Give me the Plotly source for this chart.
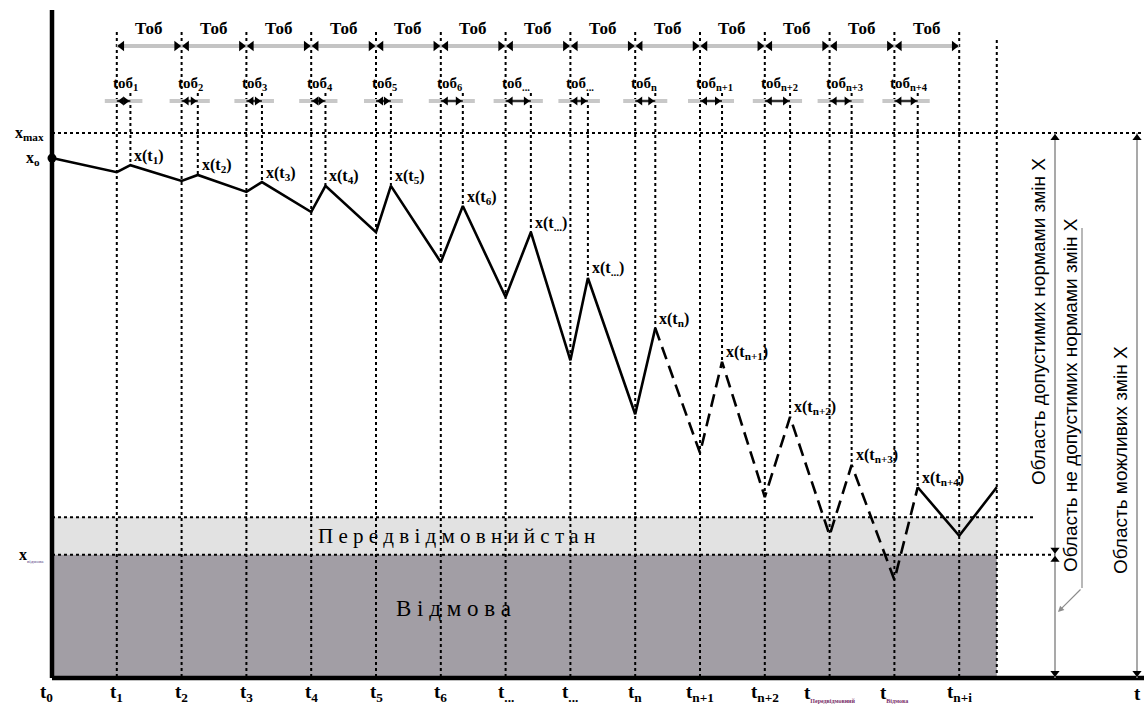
import plotly.graph_objects as go

# ---------------- data ----------------
t_index = list(range(15))                      # t0 .. t_{n+i}
t_tick_labels = ["t<sub>0</sub>", "t<sub>1</sub>", "t<sub>2</sub>", "t<sub>3</sub>", "t<sub>4</sub>",
                 "t<sub>5</sub>", "t<sub>6</sub>", "t<sub>...</sub>", "t<sub>...</sub>", "t<sub>n</sub>",
                 "t<sub>n+1</sub>", "t<sub>n+2</sub>",
                 "t<sub><span style='font-size:6px;color:#7a2f6a'>Передвідмовний</span></sub>",
                 "t<sub><span style='font-size:6px;color:#7a2f6a'>Відмова</span></sub>",
                 "t<sub>n+i</sub>"]
tob_dur = [0.21, 0.25, 0.24, 0.22, 0.23, 0.34, 0.39, 0.27, 0.31, 0.34, 0.39, 0.34, 0.36]
trough_vals = [92.8, 91.2, 89.2, 85.5, 81.8, 76.3, 69.9, 58.3, 48.4, 41.3, 33.2, 26.2, 18.0, 26.1]
peak_vals = [94.1, 92.3, 91.0, 90.3, 90.3, 86.6, 81.8, 73.4, 64.2, 58.0, 47.9, 39.1, 35.0]
sub_labels = ["1", "2", "3", "4", "5", "6", "...", "...", "n", "n+1", "n+2", "n+3", "n+4"]
x0_val = 95.4
x_max = 100.0
x_prefail = 29.5
x_fail = 22.6
t_end = 14.58
end_val = 35.0
t_far = 16.7

# ---------------- scale helpers ----------------
PX_X = 64.8   # px per time unit
PX_Y = 5.45   # px per value unit
def dx(px): return px / PX_X
def dy(px): return px / PX_Y

XR = [-52 / PX_X, (1144 - 52) / PX_X]
YR = [-34 / PX_Y, 678 / PX_Y]

fig = go.Figure()
SERIF = "Liberation Serif, Times New Roman, DejaVu Serif, serif"
SANS = "Liberation Sans, Arial, sans-serif"

def line(xs, ys, color="black", width=2, dash="solid"):
    fig.add_trace(go.Scatter(x=xs, y=ys, mode="lines", hoverinfo="skip", showlegend=False,
                             line=dict(color=color, width=width, dash=dash)))

def marks(xs, ys, symbol, size=8, color="black"):
    fig.add_trace(go.Scatter(x=xs, y=ys, mode="markers", hoverinfo="skip", showlegend=False,
                             marker=dict(symbol=symbol, size=size, color=color, line=dict(width=0))))

shapes = []
# regions
shapes.append(dict(type="rect", xref="x", yref="y", x0=0, x1=t_end, y0=x_fail, y1=x_prefail,
                   fillcolor="#e2e2e2", line=dict(width=0), layer="below"))
shapes.append(dict(type="rect", xref="x", yref="y", x0=0, x1=t_end, y0=0, y1=x_fail,
                   fillcolor="#a29ea5", line=dict(width=0), layer="below"))

# horizontal dotted lines
top_y = dy(678 - 32)
line([0, XR[1]], [x_max, x_max], width=2, dash="dot")
line([0, dx(1033 - 52)], [x_prefail, x_prefail], width=2, dash="dot")
line([0, dx(1055 - 52)], [x_fail, x_fail], width=2, dash="dot")

# vertical dotted lines at t_k
for k in t_index[1:]:
    line([k, k], [top_y, 0], width=2, dash="dot")
line([t_end, t_end], [dy(678 - 40), 0], width=2, dash="dot")
# dotted lines at end of service
for k in range(1, 14):
    xp = k + tob_dur[k - 1]
    line([xp, xp], [dy(678 - 93), peak_vals[k - 1]], width=2, dash="dot")

# ---- Тоб row ----
T_row = dy(678 - 46)
line([1, 14], [T_row, T_row], color="#c4c4c4", width=4)
off = dx(5)
marks([k + off for k in range(1, 14)], [T_row] * 13, "triangle-left", 9)
marks([k + 1 - off for k in range(1, 14)], [T_row] * 13, "triangle-right", 9)

# ---- tоб row ----
t_row = dy(678 - 101)
for k in range(1, 14):
    a, b = k, k + tob_dur[k - 1]
    line([a - dx(12), b + dx(12)], [t_row, t_row], color="#c8c8c8", width=4)
    line([a, b], [t_row, t_row], color="black", width=1.5)
marks([k + off for k in range(1, 14)], [t_row] * 13, "triangle-left", 8)
marks([k + tob_dur[k - 1] - off for k in range(1, 14)], [t_row] * 13, "triangle-right", 8)

# ---- curve ----
cx, cy = [0], [x0_val]
for k in range(1, 14):
    cx += [k, k + tob_dur[k - 1]]
    cy += [trough_vals[k - 1], peak_vals[k - 1]]
cx += [14, t_end]
cy += [trough_vals[13], end_val]
line(cx[:19], cy[:19], width=2.6)
line(cx[18:27], cy[18:27], width=2.6, dash="13px,7px")
line(cx[26:], cy[26:], width=2.6)
marks([0], [x0_val], "circle", 9)

# ---- axes ----
line([0, 0], [0, dy(678 - 10)], width=4.5)
line([0, XR[1]], [0, 0], width=4.5)

# ---- right-hand arrows ----
xa1 = dx(1055 - 52)
xa2 = dx(1137 - 52)
line([xa1, xa1], [x_max, 0], color="#8c8c8c", width=1.5)
line([xa2, xa2], [x_max, 0], color="#8c8c8c", width=1.5)
ao = dy(5)
marks([xa1, xa2, xa1], [x_max - ao, x_max - ao, x_fail - ao], "triangle-up", 8)
marks([xa1, xa2, xa1], [ao, ao, x_fail + ao], "triangle-down", 8)
xb = dx(1082 - 52)
line([xb, xb], [dy(678 - 228), dy(678 - 588)], color="#a0a0a0", width=1.5)

annotations = []
def text(x, y, s, size=15, family=SERIF, xanchor="center", yanchor="middle", color="black",
         angle=0, xshift=0, yshift=0):
    annotations.append(dict(x=x, y=y, xref="x", yref="y", text=s, showarrow=False,
                            font=dict(family=family, size=size, color=color),
                            xanchor=xanchor, yanchor=yanchor, textangle=angle,
                            xshift=xshift, yshift=yshift))

# leader arrow
annotations.append(dict(x=dx(1058 - 52), y=dy(678 - 612), ax=xb, ay=dy(678 - 588),
                        xref="x", yref="y", axref="x", ayref="y", showarrow=True,
                        arrowhead=2, arrowsize=1, arrowwidth=1.2, arrowcolor="#8c8c8c", text=""))

# Тоб labels
for k in range(1, 14):
    text(k + 0.5, dy(678 - 28), "<b>Тоб</b>", size=17)
# tоб labels
for k in range(1, 14):
    text(k, dy(678 - 84), "<b>tоб<sub>%s</sub></b>" % sub_labels[k - 1], size=15,
         xanchor="left", xshift=-6)
# x(t) labels
for k in range(1, 14):
    text(k + tob_dur[k - 1], peak_vals[k - 1], "<b>x(t<sub>%s</sub>)</b>" % sub_labels[k - 1],
         size=16, xanchor="left", xshift=2, yshift=9)

# y labels
text(0, x_max, "<b>x<sub>max</sub></b>", size=16, xanchor="right", xshift=-6)
text(0, x0_val, "<b>x<sub>o</sub></b>", size=16, xanchor="right", xshift=-10)
text(0, x_fail, "<b>x</b><sub><span style='font-size:5px;color:#5a4a8a'>відмова</span></sub>",
     size=16, xanchor="right", xshift=-6)

# bottom labels
for k in t_index:
    text(k, dy(-15), "<b>%s</b>" % t_tick_labels[k], size=19, xshift=(-6 if k == 0 else 0))
text(t_far + dx(3), dy(-15), "<b>t</b>", size=19)

# band texts
text(dx(456 - 52), dy(678 - 536), "П е р е д в і д м о в н и й с т а н", size=21)
text(dx(453 - 52), dy(678 - 608), "В і д м о в а", size=23)

# rotated region labels
text(dx(1038 - 52), dy(678 - 322), "Область допустимих нормами змін X", size=19,
     family=SANS, angle=-90)
text(dx(1070 - 52), dy(678 - 395), "Область не допустимих нормами змін X", size=19,
     family=SANS, angle=-90)
text(dx(1120 - 52), dy(678 - 460), "Область можливих змін X", size=19,
     family=SANS, angle=-90)

fig.update_layout(
    width=1144, height=712, margin=dict(l=0, r=0, t=0, b=0),
    paper_bgcolor="white", plot_bgcolor="white", showlegend=False,
    xaxis=dict(range=XR, visible=False, fixedrange=True),
    yaxis=dict(range=YR, visible=False, fixedrange=True),
    shapes=shapes, annotations=annotations,
)
fig.write_html("out.html", config={"displayModeBar": False},
               post_script="document.body.style.margin='0';")
